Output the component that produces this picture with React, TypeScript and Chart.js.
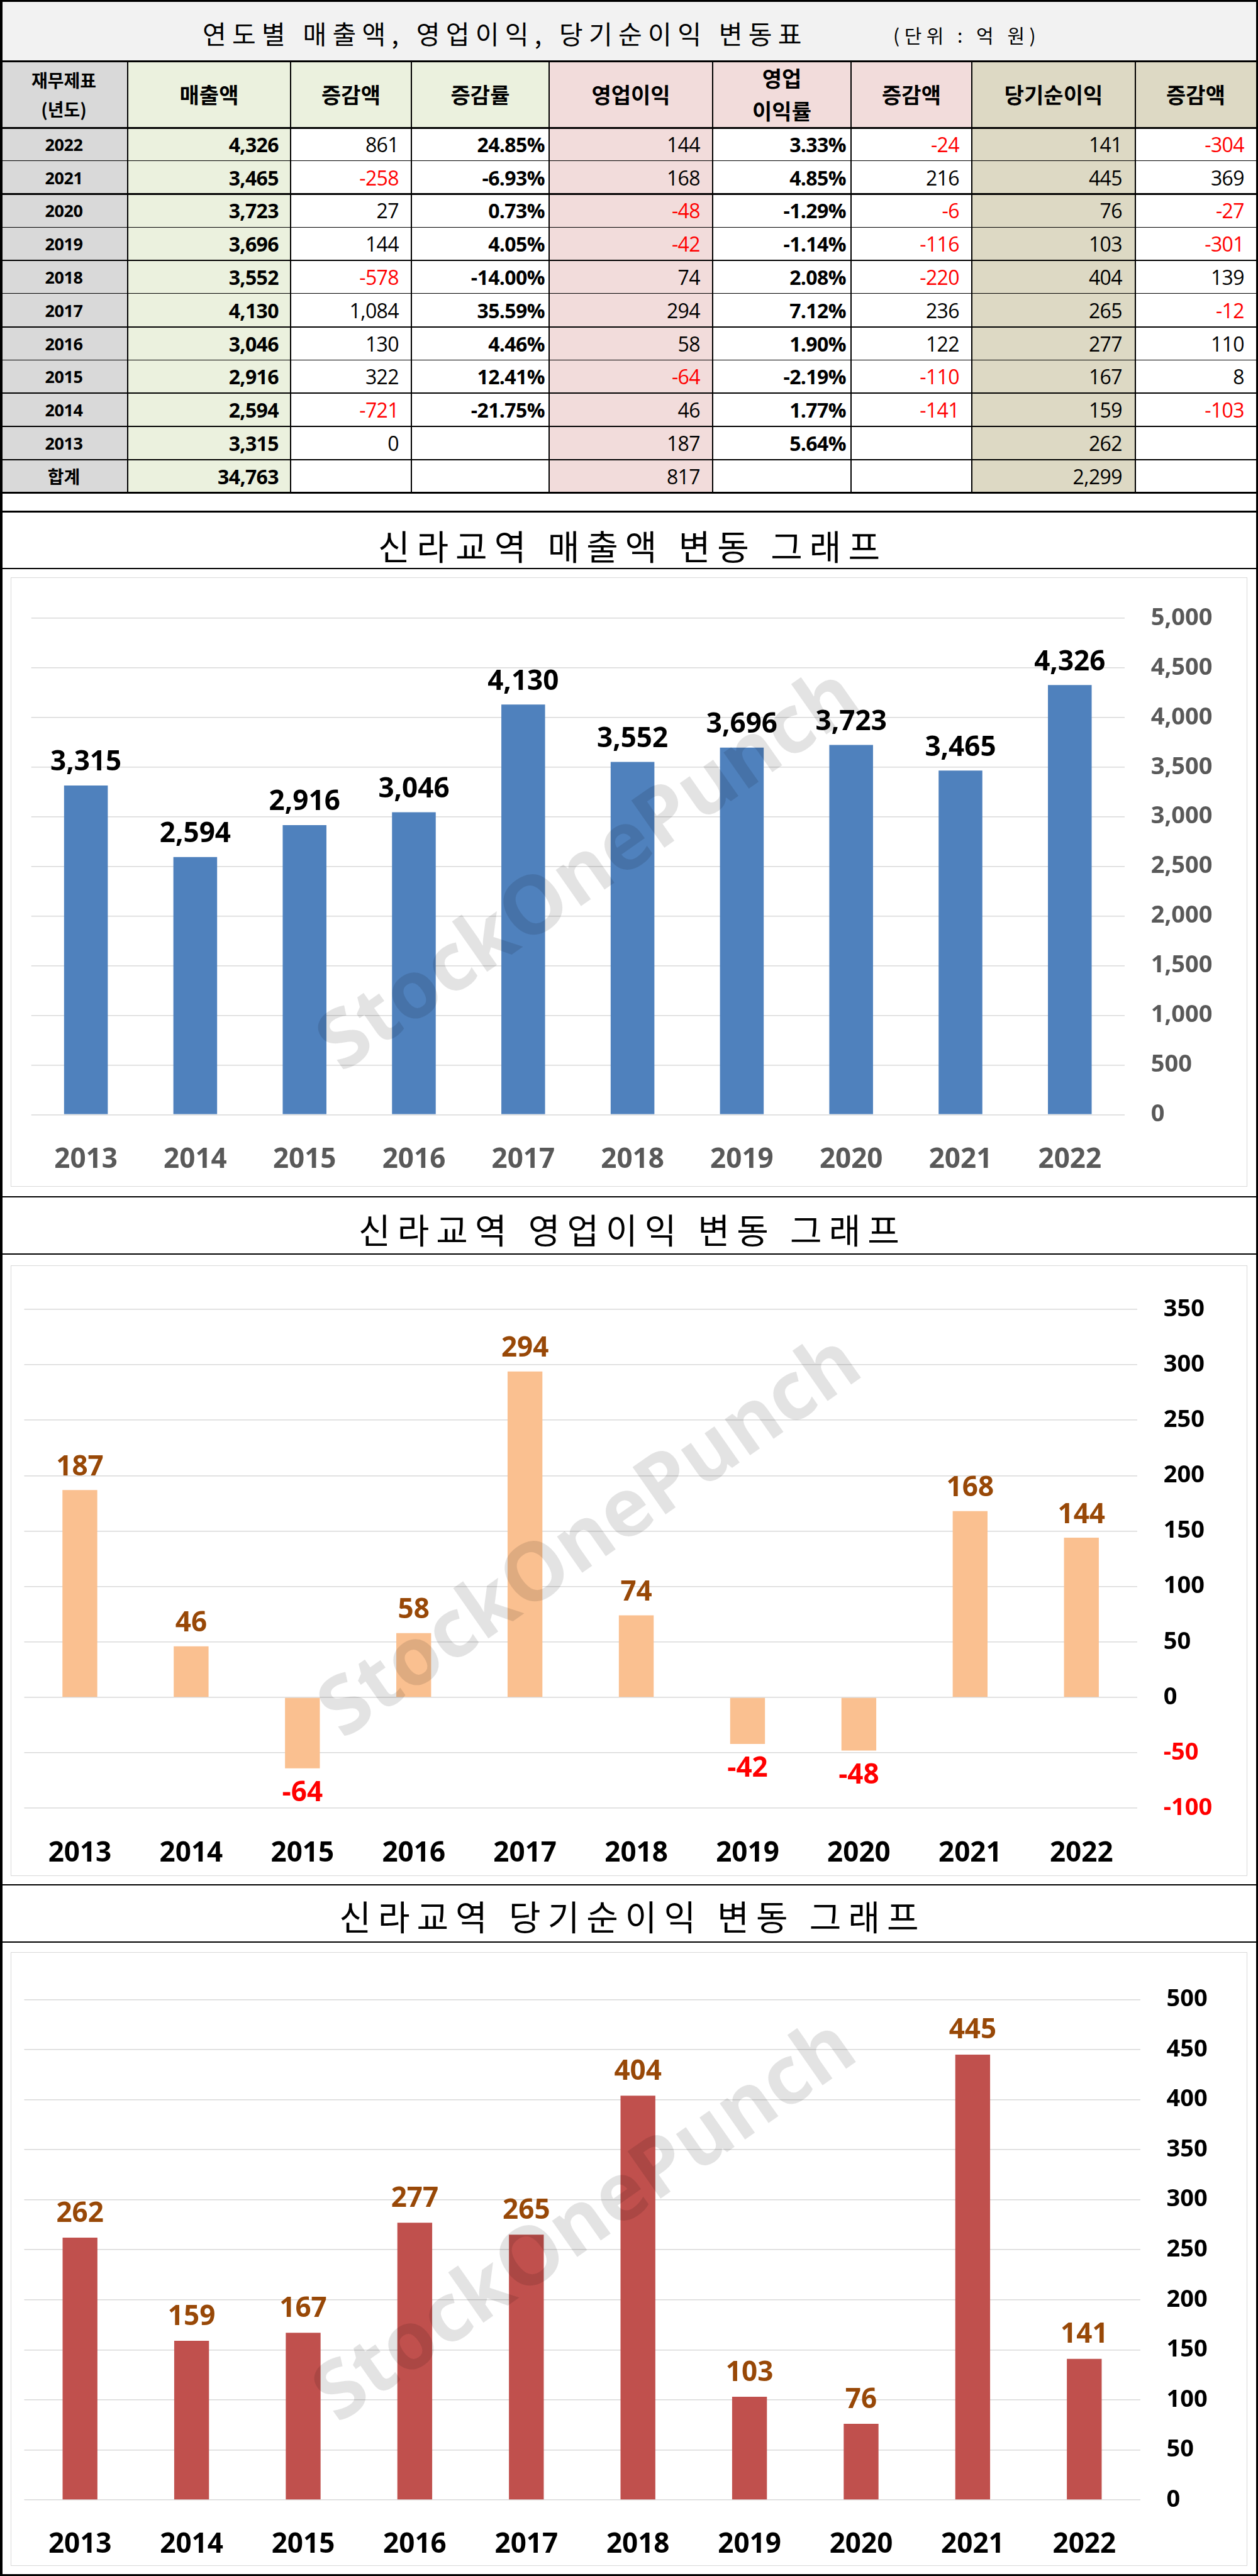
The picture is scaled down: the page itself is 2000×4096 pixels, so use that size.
import React, { useEffect, useRef } from "react";
import { Chart, registerables } from "chart.js";

Chart.register(...registerables);

// ---------------- DATA ----------------
const years = ["2013", "2014", "2015", "2016", "2017", "2018", "2019", "2020", "2021", "2022"];
const revenue = [3315, 2594, 2916, 3046, 4130, 3552, 3696, 3723, 3465, 4326];
const operatingProfit = [187, 46, -64, 58, 294, 74, -42, -48, 168, 144];
const netIncome = [262, 159, 167, 277, 265, 404, 103, 76, 445, 141];

const revenueAxis = [0, 5000, 500];
const profitAxis = [-100, 350, 50];
const netAxis = [0, 500, 50];

const tableTitle = "연도별 매출액, 영업이익, 당기순이익 변동표";
const tableUnit = "(단위 : 억 원)";
const tableHeaders = ["매출액", "증감액", "증감률", "영업이익", "영업\n이익률", "증감액", "당기순이익", "증감액"];
const tableYears = ["2022", "2021", "2020", "2019", "2018", "2017", "2016", "2015", "2014", "2013", "합계"];
const tableRevenue = ["4,326", "3,465", "3,723", "3,696", "3,552", "4,130", "3,046", "2,916", "2,594", "3,315", "34,763"];
const tableRevChange = ["861", "-258", "27", "144", "-578", "1,084", "130", "322", "-721", "0", ""];
const tableRevRate = ["24.85%", "-6.93%", "0.73%", "4.05%", "-14.00%", "35.59%", "4.46%", "12.41%", "-21.75%", "", ""];
const tableOp = ["144", "168", "-48", "-42", "74", "294", "58", "-64", "46", "187", "817"];
const tableOpMargin = ["3.33%", "4.85%", "-1.29%", "-1.14%", "2.08%", "7.12%", "1.90%", "-2.19%", "1.77%", "5.64%", ""];
const tableOpChange = ["-24", "216", "-6", "-116", "-220", "236", "122", "-110", "-141", "", ""];
const tableNi = ["141", "445", "76", "103", "404", "265", "277", "167", "159", "262", "2,299"];
const tableNiChange = ["-304", "369", "-27", "-301", "139", "-12", "110", "8", "-103", "", ""];

const chartTitles = ["신라교역 매출액 변동 그래프", "신라교역 영업이익 변동 그래프", "신라교역 당기순이익 변동 그래프"];
const watermarkText = "StockOnePunch";

// ---------------- STYLE ----------------
const NUM_FONT = "'Open Sans', 'Noto Sans CJK KR', sans-serif";
const KR_FONT = "'Noto Sans CJK KR', 'Open Sans', sans-serif";

const COLS = [0, 203, 462, 654, 873, 1133, 1353, 1545, 1805, 1997];
const TITLE_BOTTOM = 97;
const HEADER_BOTTOM = 203;
const TABLE_BOTTOM = 783.5;
const ROW_H = (TABLE_BOTTOM - HEADER_BOTTOM) / 11;

const GREEN = "#ebf1de";
const PINK = "#f2dcdb";
const TAN = "#ddd9c4";
const GRAY = "#d9d9d9";

type ColSpec = { data: string[]; bg: string; headBg: string; bold: boolean; redNeg: boolean; pad: number };

const colSpecs: ColSpec[] = [
  { data: tableRevenue, bg: GREEN, headBg: GREEN, bold: true, redNeg: true, pad: 19 },
  { data: tableRevChange, bg: "#ffffff", headBg: GREEN, bold: false, redNeg: true, pad: 20 },
  { data: tableRevRate, bg: "#ffffff", headBg: GREEN, bold: true, redNeg: false, pad: 7 },
  { data: tableOp, bg: PINK, headBg: PINK, bold: false, redNeg: true, pad: 20 },
  { data: tableOpMargin, bg: "#ffffff", headBg: PINK, bold: true, redNeg: false, pad: 8 },
  { data: tableOpChange, bg: "#ffffff", headBg: PINK, bold: false, redNeg: true, pad: 20 },
  { data: tableNi, bg: TAN, headBg: TAN, bold: false, redNeg: true, pad: 21 },
  { data: tableNiChange, bg: "#ffffff", headBg: TAN, bold: false, redNeg: true, pad: 19 },
];

function abs(left: number, top: number, width: number, height: number, extra: React.CSSProperties = {}): React.CSSProperties {
  return { position: "absolute", left, top, width, height, boxSizing: "border-box", ...extra };
}

function Table() {
  const els: React.ReactNode[] = [];
  els.push(<div key="tbg" style={abs(0, 0, 2000, TITLE_BOTTOM, { background: "#f2f2f2" })} />);
  els.push(
    <div
      key="ttl"
      style={abs(322, 6, 1100, TITLE_BOTTOM - 6, {
        display: "flex",
        alignItems: "center",
        fontFamily: KR_FONT,
        color: "#000",
        fontSize: 41,
        letterSpacing: 9.3,
        whiteSpace: "pre",
      })}
    >
      {tableTitle}
    </div>
  );
  els.push(
    <div
      key="unit"
      style={abs(1420, 12, 400, TITLE_BOTTOM - 12, {
        display: "flex",
        alignItems: "center",
        fontFamily: KR_FONT,
        color: "#000",
        fontSize: 30,
        letterSpacing: 7.5,
        whiteSpace: "pre",
      })}
    >
      {tableUnit}
    </div>
  );
  els.push(
    <div
      key="h0"
      style={abs(COLS[0], TITLE_BOTTOM, COLS[1] - COLS[0], HEADER_BOTTOM - TITLE_BOTTOM, {
        background: GRAY,
        display: "flex",
        flexDirection: "column",
        alignItems: "center",
        justifyContent: "center",
        fontFamily: KR_FONT,
        fontWeight: 700,
        fontSize: 28,
        lineHeight: "46px",
      })}
    >
      <div>재무제표</div>
      <div>(년도)</div>
    </div>
  );
  colSpecs.forEach((c, i) => {
    const lines = tableHeaders[i].split("\n");
    els.push(
      <div
        key={"h" + (i + 1)}
        style={abs(COLS[i + 1], TITLE_BOTTOM, COLS[i + 2] - COLS[i + 1], HEADER_BOTTOM - TITLE_BOTTOM, {
          background: c.headBg,
          display: "flex",
          flexDirection: "column",
          alignItems: "center",
          justifyContent: "center",
          fontFamily: KR_FONT,
          fontWeight: 700,
          fontSize: 34,
          lineHeight: lines.length > 1 ? "52px" : "40px",
        })}
      >
        {lines.map((l, k) => (
          <div key={k}>{l}</div>
        ))}
      </div>
    );
  });
  tableYears.forEach((y, r) => {
    const top = HEADER_BOTTOM + r * ROW_H;
    els.push(
      <div
        key={"y" + r}
        style={abs(COLS[0], top, COLS[1] - COLS[0], ROW_H, {
          background: GRAY,
          display: "flex",
          alignItems: "center",
          justifyContent: "center",
          fontFamily: NUM_FONT,
          fontWeight: 700,
          fontSize: y === "합계" ? 28 : 27,
          letterSpacing: y === "합계" ? 0 : -0.5,
        })}
      >
        {y}
      </div>
    );
    colSpecs.forEach((c, i) => {
      const v = c.data[r];
      const neg = v.startsWith("-");
      els.push(
        <div
          key={"c" + r + "_" + i}
          style={abs(COLS[i + 1], top, COLS[i + 2] - COLS[i + 1], ROW_H, {
            background: c.bg,
            display: "flex",
            alignItems: "center",
            justifyContent: "flex-end",
            paddingRight: c.pad,
            fontFamily: NUM_FONT,
            fontWeight: c.bold ? 700 : 400,
            fontSize: 32,
            letterSpacing: -0.6,
            color: c.redNeg && neg ? "#ff0000" : "#000",
          })}
        >
          {v}
        </div>
      );
    });
  });
  for (let i = 1; i < COLS.length - 1; i++) {
    els.push(<div key={"vl" + i} style={abs(COLS[i] - 0.75, TITLE_BOTTOM, 1.5, TABLE_BOTTOM - TITLE_BOTTOM, { background: "#000" })} />);
  }
  const thick = [false, true, false, true, false, true, false, true, true, true];
  els.push(<div key="hl_t" style={abs(0, TITLE_BOTTOM - 1.5, 2000, 3, { background: "#000" })} />);
  els.push(<div key="hl_h" style={abs(0, HEADER_BOTTOM - 1.5, 2000, 3, { background: "#000" })} />);
  for (let r = 0; r < 10; r++) {
    const y = HEADER_BOTTOM + (r + 1) * ROW_H;
    const w = thick[r] ? 2.2 : 1.2;
    els.push(<div key={"hl" + r} style={abs(0, y - w / 2, 2000, w, { background: "#000" })} />);
  }
  els.push(<div key="hl_b" style={abs(0, TABLE_BOTTOM - 1.5, 2000, 3, { background: "#000" })} />);
  els.push(<div key="hl_top" style={abs(0, 0, 2000, 3, { background: "#000" })} />);
  return <>{els}</>;
}

type BarProps = {
  left: number;
  top: number;
  width: number;
  height: number;
  values: number[];
  color: string;
  axis: number[];
  padLeft: number;
  padTop: number;
  axisW: number;
  axisH: number;
  barFrac: number;
  labelColor: string;
  negLabelColor: string;
  xColor: string;
  tickColor: string;
  negTickColor: string;
  labelOffset: number;
  xPad: number;
  wm: [number, number];
};

function BarChart(p: BarProps) {
  const ref = useRef<HTMLCanvasElement>(null);
  useEffect(() => {
    const canvas = ref.current!;
    const labelPlugin = {
      id: "valueLabels",
      afterDatasetsDraw(chart: any) {
        const c = chart.ctx as CanvasRenderingContext2D;
        const meta = chart.getDatasetMeta(0);
        c.save();
        c.font = `bold 44px ${NUM_FONT}`;
        c.textAlign = "center";
        c.textBaseline = "middle";
        meta.data.forEach((bar: any, i: number) => {
          const v = p.values[i];
          const y = v >= 0 ? bar.y - p.labelOffset : bar.y + 40;
          c.fillStyle = v >= 0 ? p.labelColor : p.negLabelColor;
          c.fillText(v.toLocaleString("en-US"), bar.x, y);
        });
        c.restore();
      },
      afterDraw(chart: any) {
        const c = chart.ctx as CanvasRenderingContext2D;
        c.save();
        c.font = `bold 100px 'Open Sans', sans-serif`;
        const w100 = c.measureText(watermarkText).width;
        const size = (100 * 1015) / w100;
        c.font = `bold ${size}px 'Open Sans', sans-serif`;
        c.translate(p.wm[0], p.wm[1]);
        c.rotate((-35 * Math.PI) / 180);
        c.textAlign = "center";
        c.textBaseline = "middle";
        c.fillStyle = "rgba(0,0,0,0.11)";
        c.fillText(watermarkText, 0, 0);
        c.restore();
      },
    };
    const chart = new Chart(canvas, {
      type: "bar",
      data: {
        labels: years,
        datasets: [
          {
            data: p.values,
            backgroundColor: p.color,
            borderWidth: 0,
            barPercentage: p.barFrac,
            categoryPercentage: 1,
          },
        ],
      },
      options: {
        animation: false,
        responsive: false,
        maintainAspectRatio: false,
        layout: { padding: { left: p.padLeft, top: p.padTop, right: 0, bottom: 0 } },
        plugins: { legend: { display: false }, tooltip: { enabled: false }, title: { display: false } },
        scales: {
          x: {
            grid: { display: false },
            border: { display: false },
            ticks: {
              color: p.xColor,
              font: { family: NUM_FONT, size: 44, weight: "bold" },
              padding: p.xPad,
              maxRotation: 0,
              autoSkip: false,
            },
            afterFit(s: any) {
              s.height = p.axisH;
            },
          },
          y: {
            position: "right",
            min: p.axis[0],
            max: p.axis[1],
            ticks: {
              stepSize: p.axis[2],
              color: (ctx: any) => (ctx.tick && ctx.tick.value < 0 ? p.negTickColor : p.tickColor),
              font: { family: NUM_FONT, size: 38, weight: "bold" },
              padding: 42,
              callback: (v: any) => Number(v).toLocaleString("en-US"),
            },
            grid: { color: "#d9d9d9", lineWidth: 1.6, drawTicks: false },
            border: { display: false },
            afterFit(s: any) {
              s.width = p.axisW;
            },
          },
        },
      } as any,
      plugins: [labelPlugin],
    });
    return () => chart.destroy();
  }, []);
  return (
    <>
      <div style={abs(p.left, p.top, p.width, p.height, { border: "1.6px solid #d9d9d9" })} />
      <canvas ref={ref} width={p.width} height={p.height} style={{ position: "absolute", left: p.left, top: p.top, width: p.width, height: p.height }} />
    </>
  );
}

function Title({ text, center }: { text: string; center: number }) {
  return (
    <div
      style={abs(0, center - 40, 2000, 80, {
        display: "flex",
        alignItems: "center",
        justifyContent: "center",
        fontFamily: KR_FONT,
        fontSize: 55,
        letterSpacing: 11,
        paddingLeft: 11,
        color: "#000",
        whiteSpace: "pre",
      })}
    >
      {text}
    </div>
  );
}

function HLine({ y, w = 2.7 }: { y: number; w?: number }) {
  return <div style={abs(0, y - w / 2, 2000, w, { background: "#000" })} />;
}

export default function App() {
  return (
    <div style={{ position: "absolute", left: 0, top: 0, width: 2000, height: 4096, background: "#fff", overflow: "hidden" }}>
      <Table />
      <HLine y={813} w={3} />
      <Title text={chartTitles[0]} center={866} />
      <HLine y={904} />
      <BarChart
        left={17}
        top={918}
        width={1966}
        height={969}
        values={revenue}
        color="#4f81bd"
        axis={revenueAxis}
        padLeft={32.7}
        padTop={52.4}
        axisW={195.3}
        axisH={114.6}
        barFrac={0.4}
        labelColor="#000000"
        negLabelColor="#ff0000"
        xColor="#595959"
        tickColor="#595959"
        negTickColor="#ff0000"
        labelOffset={36}
        xPad={37.6}
        wm={[921, 468]}
      />
      <HLine y={1903} />
      <Title text={chartTitles[1]} center={1953} />
      <HLine y={1994} />
      <BarChart
        left={17}
        top={2012}
        width={1966}
        height={971}
        values={operatingProfit}
        color="#fac090"
        axis={profitAxis}
        padLeft={21.5}
        padTop={70}
        axisW={175.3}
        axisH={107.8}
        barFrac={0.313}
        labelColor="#984807"
        negLabelColor="#ff0000"
        xColor="#000000"
        tickColor="#000000"
        negTickColor="#ff0000"
        labelOffset={36}
        xPad={37.4}
        wm={[923, 434]}
      />
      <HLine y={2997} />
      <Title text={chartTitles[2]} center={3045} />
      <HLine y={3088} />
      <BarChart
        left={17}
        top={3104}
        width={1966}
        height={976}
        values={netIncome}
        color="#c0504d"
        axis={netAxis}
        padLeft={21.5}
        padTop={75.4}
        axisW={170.5}
        axisH={105}
        barFrac={0.312}
        labelColor="#984807"
        negLabelColor="#ff0000"
        xColor="#000000"
        tickColor="#000000"
        negTickColor="#ff0000"
        labelOffset={38}
        xPad={36.9}
        wm={[915, 430]}
      />
      <HLine y={4094} w={3} />
      <div style={abs(0, 0, 3.8, 4096, { background: "#000" })} />
      <div style={abs(1996.5, 0, 3.5, 4096, { background: "#000" })} />
    </div>
  );
}
